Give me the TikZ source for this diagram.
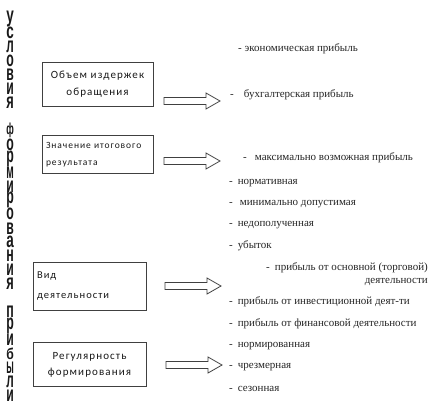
\documentclass[tikz,border=0pt]{standalone}
\usepackage{fontspec}
\setmainfont{Liberation Serif}
\newfontfamily\boxfont{Carlito}[LetterSpace=10]
\newfontfamily\vfont{Liberation Sans}
\begin{document}
\begin{tikzpicture}[x=1pt,y=-1pt,
  box/.style={draw=black!75, line width=0.8pt, rectangle, inner sep=3pt, text=black!90, font=\boxfont\fontsize{11}{17}\selectfont},
  item/.style={anchor=west, inner sep=0pt, text=black!85, font=\fontsize{11}{13}\selectfont},
  arrowline/.style={draw=black!75, line width=0.8pt, fill=white},
  vletter/.style={inner sep=0pt, text=black!90},
  blockarrow/.pic={\path[arrowline] (0,-3.5) -- (42,-3.5) -- (42,-8) -- (56,0) -- (42,8) -- (42,3.5) -- (0,3.5) -- cycle;}
]
\useasboundingbox (0,0) rectangle (430,406);
\fill[white] (0,0) rectangle (430,406);

% vertical title
\foreach \ch/\s in {у/0,с/1,л/2,о/3,в/4,и/5,я/6,ф/8,о/9,р/10,м/11,и/12,р/13,о/14,в/15,а/16,н/17,и/18,я/19,п/21,р/22,и/23,б/24,ы/25,л/26,и/27}
  \node[vletter] (v\s) at (10, 19+\s*13.95) {\resizebox{7.5pt}{11.5pt}{\vfont\bfseries\ch}};

% boxes
\node[box, minimum width=111pt, minimum height=44pt, align=center] (b1) at (97.5,84.5)
  {Объем издержек\\обращения};
\node[box, minimum width=111pt, minimum height=38pt, text width=103pt, align=left, font=\boxfont\fontsize{9.5}{17}\selectfont] (b2) at (97.5,154.5)
  {Значение итогового\\результата};
\node[box, minimum width=113pt, minimum height=48pt, text width=105pt, align=left, font=\boxfont\fontsize{10.5}{20}\selectfont] (b3) at (89.5,286)
  {Вид\\деятельности};
\node[box, minimum width=113pt, minimum height=44pt, align=center, font=\boxfont\fontsize{11}{16}\selectfont] (b4) at (89.5,364.5)
  {Регулярность\\формирования};

% block arrows
\pic (a1) at (164,101) {blockarrow};
\pic (a2) at (164,161) {blockarrow};
\pic (a3) at (165,286) {blockarrow};
\pic (a4) at (166,365) {blockarrow};

% list items
\node[item] (t1) at (238,49) {- экономическая прибыль};
\node[item] (t2) at (230,95) {-\hspace{10pt}бухгалтерская прибыль};
\node[item] (t3) at (243,158) {-\hspace{8pt}максимально возможная прибыль};
\node[item] (t4) at (229,183) {-\hspace{5pt}нормативная};
\node[item] (t5) at (229,204) {-\hspace{7pt}минимально допустимая};
\node[item] (t6) at (229,225) {-\hspace{5pt}недополученная};
\node[item] (t7) at (229,246) {-\hspace{5pt}убыток};
\node[item, anchor=north east, align=right] (t8) at (428,262) {-\hspace{5pt}прибыль от основной (торговой)\\деятельности};
\node[item] (t9) at (229,302) {-\hspace{5pt}прибыль от инвестиционной деят-ти};
\node[item] (t10) at (229,324) {-\hspace{5pt}прибыль от финансовой деятельности};
\node[item] (t11) at (229,346) {-\hspace{5pt}нормированная};
\node[item] (t12) at (229,367) {-\hspace{5pt}чрезмерная};
\node[item] (t13) at (229,389) {-\hspace{5pt}сезонная};
\end{tikzpicture}
\end{document}
